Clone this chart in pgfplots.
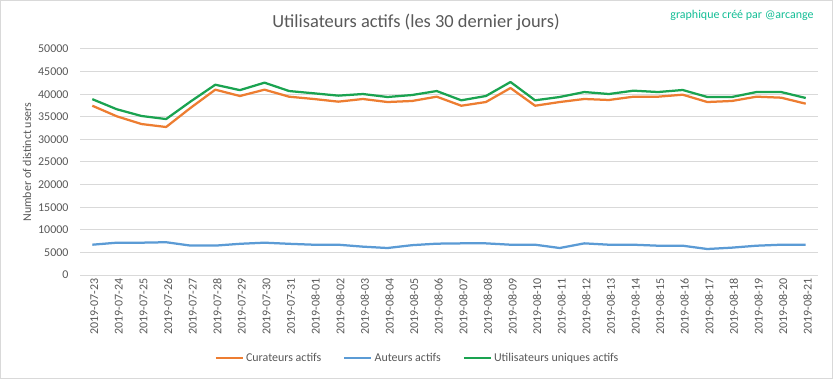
\documentclass[border=0pt]{standalone}
\usepackage{fontspec}
\setmainfont{Carlito}
\usepackage{pgfplots}
\pgfplotsset{compat=1.18}
\definecolor{cOrange}{HTML}{ED7D31}
\definecolor{cBlue}{HTML}{5B9BD5}
\definecolor{cGreen}{HTML}{1AA350}
\definecolor{cGrid}{HTML}{D9D9D9}
\definecolor{cText}{HTML}{595959}
\definecolor{cMark}{HTML}{14BE96}
\pgfplotstableread{
x cur aut uni
0  37450 6700 38900
1  35100 7150 36660
2  33400 7150 35180
3  32740 7250 34500
4  37000 6500 38400
5  41000 6500 42100
6  39600 6900 40900
7  41000 7150 42550
8  39450 6900 40700
9  38940 6700 40200
10 38350 6700 39680
11 38940 6270 40040
12 38270 5970 39380
13 38500 6600 39820
14 39450 6930 40700
15 37450 7000 38650
16 38270 7000 39600
17 41370 6700 42700
18 37450 6700 38650
19 38270 5970 39380
20 38940 7000 40480
21 38720 6700 40040
22 39450 6700 40780
23 39450 6480 40480
24 39890 6480 40930
25 38270 5750 39380
26 38500 6050 39380
27 39450 6480 40480
28 39230 6700 40480
29 37900 6700 39160
}\data
\begin{document}
\begin{tikzpicture}
\fill[white] (0bp,0bp) rectangle (833bp,379bp);
\draw[cGrid, line width=1bp] (0.5bp,0.5bp) rectangle (832.5bp,378.5bp);
\node[cText, font=\fontsize{18.5}{20}\selectfont] at (416bp,357bp) {Utilisateurs actifs (les 30 dernier jours)};
\node[cMark, font=\fontsize{12}{14}\selectfont] at (742bp,364bp) {graphique créé par @arcange};
\begin{axis}[
  at={(80bp,104bp)}, anchor=south west, scale only axis,
  width=738bp, height=226bp,
  xmin=-0.5, xmax=29.5, ymin=0, ymax=50000,
  xtick=data,
  xticklabels={2019-07-23,2019-07-24,2019-07-25,2019-07-26,2019-07-27,2019-07-28,2019-07-29,2019-07-30,2019-07-31,2019-08-01,2019-08-02,2019-08-03,2019-08-04,2019-08-05,2019-08-06,2019-08-07,2019-08-08,2019-08-09,2019-08-10,2019-08-11,2019-08-12,2019-08-13,2019-08-14,2019-08-15,2019-08-16,2019-08-17,2019-08-18,2019-08-19,2019-08-20,2019-08-21},
  ytick={0,5000,...,50000},
  ymajorgrids, grid style={cGrid, line width=1bp},
  axis line style={draw=none},
  major tick length=0pt,
  scaled y ticks=false,
  /pgf/number format/assume math mode=true,
  /pgf/number format/fixed,
  /pgf/number format/1000 sep={},
  ticklabel style={font=\fontsize{12}{14}\selectfont, text=cText},
  yticklabel style={anchor=east, xshift=-8bp},
  xticklabel style={rotate=90, anchor=east, yshift=-2bp},
  ylabel={Number of distinct users},
  every axis y label/.style={at={(axis description cs:-0.0718,0.5)}, rotate=90, anchor=center, font=\fontsize{12}{14}\selectfont, text=cText},
  legend columns=3,
  legend style={at={(axis description cs:0.4575,-0.367)}, anchor=center, draw=none, fill=none,
    font=\fontsize{12}{14}\selectfont, text=cText,
    /tikz/every even column/.append style={column sep=20bp}},
  legend image code/.code={\draw[#1, line width=2.25bp] (0bp,0bp) -- (27bp,0bp);},
  every axis plot/.append style={line width=2.25bp, line join=round},
]
\addplot[cOrange] table[x=x,y=cur]{\data};
\addlegendentry{Curateurs actifs}
\addplot[cBlue] table[x=x,y=aut]{\data};
\addlegendentry{Auteurs actifs}
\addplot[cGreen] table[x=x,y=uni]{\data};
\addlegendentry{Utilisateurs uniques actifs}
\end{axis}
\end{tikzpicture}
\end{document}
